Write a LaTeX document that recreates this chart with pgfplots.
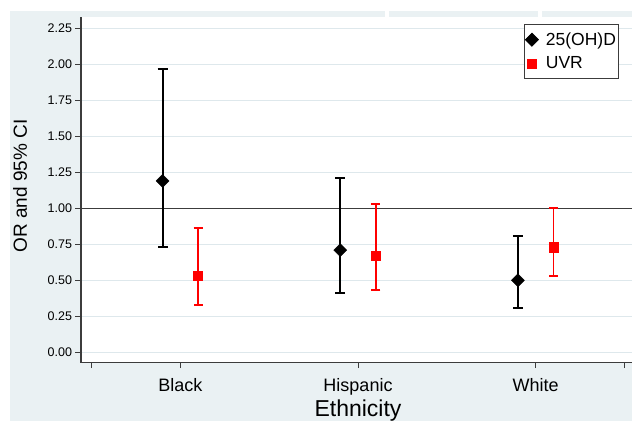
\documentclass[border=0pt]{standalone}
\usepackage{pgfplots}
\pgfplotsset{compat=1.18}
\usepackage{pgfplotstable}
\usepackage{fontspec}
\setmainfont{Liberation Sans}
\definecolor{bgc}{RGB}{234,241,243}
\definecolor{gridc}{RGB}{222,232,236}
\definecolor{axc}{RGB}{60,60,60}
\pgfplotstableread{
x y lo hi
0.9 1.19 0.73 1.97
1.9 0.71 0.41 1.21
2.9 0.50 0.31 0.81
}\ohd
\pgfplotstableread{
x y lo hi
1.1 0.53 0.33 0.86
2.1 0.67 0.43 1.03
3.1 0.73 0.53 1.00
}\uvr
\begin{document}
\begin{tikzpicture}[x=1pt,y=1pt]
\useasboundingbox (0,0) rectangle (632,421);
\fill[white] (0,0) rectangle (632,421);
\fill[bgc] (10,0) rectangle (632,410);
\fill[white] (385,404) rectangle (389,410);
\fill[white] (538,404) rectangle (542,410);
\begin{axis}[
  at={(81pt,58.3pt)}, anchor=south west,
  scale only axis, width=551pt, height=345.4pt,
  xmin=0.441, xmax=3.542, ymin=-0.0722, ymax=2.326,
  axis x line*=bottom, axis y line*=left,
  axis line style={axc, line width=1.1pt},
  axis background/.style={fill=white},
  tick align=outside, major tick length=5.5pt,
  tick style={axc, line width=1pt},
  xtick={0.5,1,2,3,3.5},
  xticklabels={,Black,Hispanic,White,},
  ytick={0,0.25,...,2.25},
  ymajorgrids, grid style={gridc, line width=0.8pt},
  yticklabel style={font=\fontsize{12.5}{15}\selectfont},
  yticklabel style={/pgf/number format/.cd, fixed, fixed zerofill, precision=2, assume math mode=true},
  xticklabel style={font=\fontsize{18}{21}\selectfont, anchor=base, yshift=-23pt},
  xlabel={Ethnicity},
  xlabel style={font=\fontsize{23}{26}\selectfont, at={(axis description cs:0.5027,-0.1563)}, anchor=base},
  ylabel={OR and 95\% CI},
  ylabel style={font=\fontsize{19}{22}\selectfont, at={(axis description cs:-0.098,0.512)}, anchor=base},
  legend style={at={(axis description cs:0.804,0.980)}, anchor=north west,
    draw=axc, line width=0.8pt, fill=white,
    font=\fontsize{17.5}{20}\selectfont, inner xsep=1pt, inner ysep=6.5pt,
    row sep=7pt, nodes={inner sep=1.5pt},
    /tikz/every odd column/.append style={column sep=6pt}},
  legend cell align=left,
  clip=false,
]
\addplot[axc, line width=1.1pt, forget plot] coordinates {(0.441,1) (3.542,1)};
\addplot[black, only marks, mark=square*, mark size=4.6pt,
  mark options={rotate=45, fill=black, draw=black},
  error bars/.cd, y dir=both, y explicit,
  error bar style={line width=1.9pt, black},
  error mark options={rotate=90, mark size=5pt, line width=1.9pt, black}]
  table[x=x, y=y, y error plus expr=\thisrow{hi}-\thisrow{y}, y error minus expr=\thisrow{y}-\thisrow{lo}] {\ohd};
\addlegendentry{25(OH)D\hspace{7pt}}
\addplot[red, only marks, mark=square*, mark size=4.6pt,
  mark options={fill=red, draw=red},
  error bars/.cd, y dir=both, y explicit,
  error bar style={line width=1.9pt, red},
  error mark options={rotate=90, mark size=4.5pt, line width=1.9pt, red}]
  table[x=x, y=y, y error plus expr=\thisrow{hi}-\thisrow{y}, y error minus expr=\thisrow{y}-\thisrow{lo}] {\uvr};
\addlegendentry{UVR}
\end{axis}
\end{tikzpicture}
\end{document}
